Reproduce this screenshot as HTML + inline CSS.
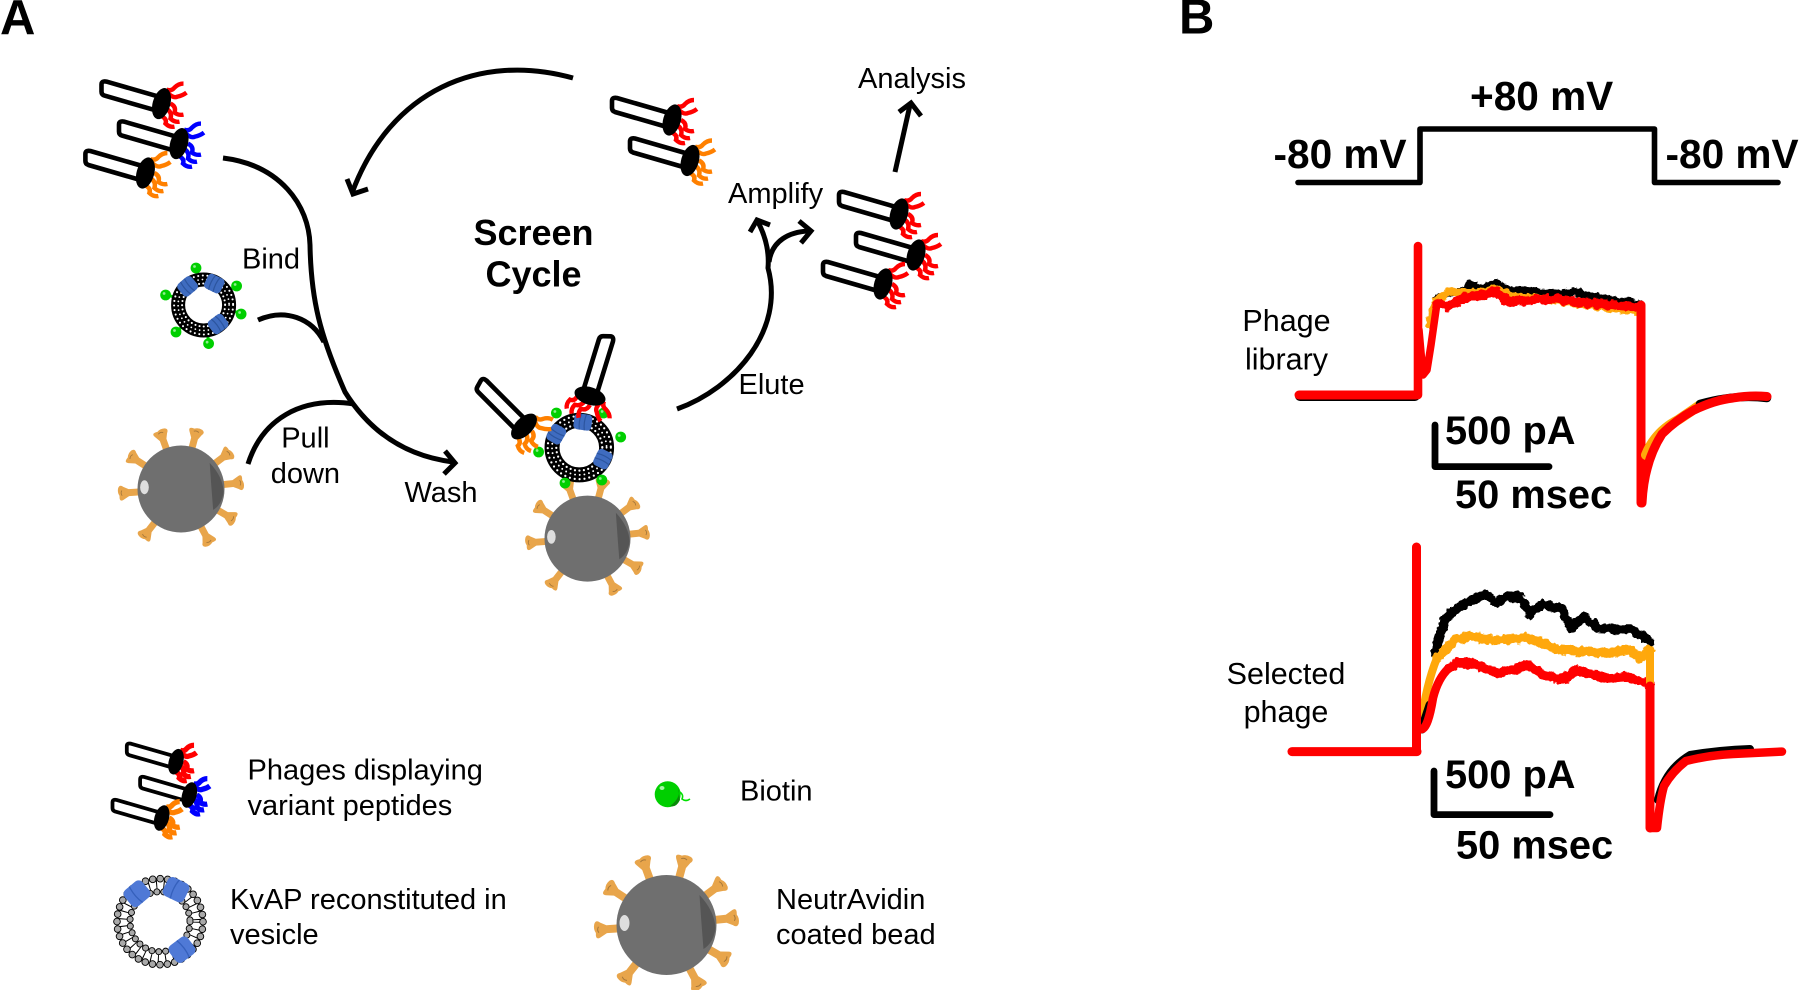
<!DOCTYPE html>
<html lang="en">
<head>
<meta charset="utf-8">
<title>Phage screen cycle and electrophysiology traces</title>
<style>
html,body{margin:0;padding:0;background:#fff;width:1800px;height:990px;overflow:hidden}
svg{display:block}
text{font-family:"Liberation Sans",sans-serif;fill:#000}
.l{font-size:29px}
.s{font-size:30.5px}
.b{font-size:39.8px;font-weight:bold}
.v{font-size:40.6px;font-weight:bold}
.h{font-size:49px;font-weight:bold}
.a{fill:none;stroke:#000;stroke-width:5}
</style>
</head>
<body>
<svg width="1800" height="990" viewBox="0 0 1800 990" xmlns="http://www.w3.org/2000/svg">
<defs>
<filter id="n" filterUnits="userSpaceOnUse" x="1200" y="200" width="600" height="700">
<feTurbulence type="fractalNoise" baseFrequency="0.18" numOctaves="2" seed="4"/>
<feDisplacementMap in="SourceGraphic" scale="6" xChannelSelector="R" yChannelSelector="G"/>
</filter>
<g id="phage">
<path d="M-3,-7 L-55,-22 Q-60,-23 -60,-19 L-60,-12 Q-60,-9 -57,-8 L-5,7" fill="#fff" stroke="#000" stroke-width="4.6"/>
<g fill="none">
<path d="M5,-14 Q10,-12 13,-16 Q17,-20 22,-20"/>
<path d="M7,-10 Q12,-5 16,-7 Q21,-8 25,-11"/>
<path d="M9,0 Q15,3 13,9 Q17,12 22,11"/>
<path d="M5,5 Q11,9 9,15 Q13,19 18,18"/>
<path d="M-1,12 Q6,15 4,20 Q8,24 13,23"/>
</g>
<ellipse cx="0" cy="0" rx="8.8" ry="16" transform="rotate(16)" fill="#000" stroke="none"/>
</g>
<g id="prot">
<rect x="-9" y="-8" width="18" height="16" rx="4" fill="#3f6cc0"/>
<path d="M-2.5,-8 Q-4.5,0 -2.5,8 M2.5,-8 Q0.5,0 2.5,8" fill="none" stroke="#2c559f" stroke-width="1.2"/>
</g>
<g id="ves">
<circle r="25.5" fill="none" stroke="#000" stroke-width="14"/>
<circle r="29.5" fill="none" stroke="#fff" stroke-width="2.1" stroke-linecap="round" stroke-dasharray="0 4.6"/>
<circle r="25.5" fill="none" stroke="#fff" stroke-width="1.8" stroke-linecap="round" stroke-dasharray="0 4.4"/>
<circle r="21.5" fill="none" stroke="#fff" stroke-width="2.1" stroke-linecap="round" stroke-dasharray="0 4.2"/>
<circle r="18" fill="#fff"/>
</g>
<g id="bio">
<circle r="5.4" fill="#00cf00"/>
<circle cx="-1.5" cy="-1.5" r="1.4" fill="#8fef8f"/>
</g>
<g id="sp">
<path d="M-4,-46 L-4,-60 L-8,-67 Q-10.5,-72 -3,-71 Q1,-73.5 6,-72 Q10.5,-70 7,-66 L4,-60 L4,-46 Z" fill="#e8a54b"/>
<path d="M-3,-68 Q0,-70 3,-68" fill="none" stroke="#a5773a" stroke-width="1"/>
</g>
<g id="bead">
<use href="#sp" transform="rotate(-20)"/>
<use href="#sp" transform="rotate(15)"/>
<use href="#sp" transform="rotate(53)"/>
<use href="#sp" transform="rotate(84)"/>
<use href="#sp" transform="rotate(120)"/>
<use href="#sp" transform="rotate(152)"/>
<use href="#sp" transform="rotate(218)"/>
<use href="#sp" transform="rotate(266)"/>
<use href="#sp" transform="rotate(303)"/>
<circle r="50" fill="#6f6f6f"/>
<path d="M33,-30 Q48,-14 49,3 Q47,18 37,24 Q35,0 33,-30Z" fill="#555"/>
<ellipse cx="-42" cy="-2" rx="5" ry="8" fill="#dedede"/>
</g>
</defs>

<rect width="1800" height="990" fill="#fff"/>

<text class="h" x="0" y="34">A</text>
<text class="h" x="1179" y="33.5">B</text>

<!-- Cycle arrows -->
<path class="a" d="M573,78 C480,52 390,90 352,193"/>
<polyline class="a" points="347,179 353,194 368,189"/>
<path class="a" d="M223,158 C280,165 309,205 310,245 C311,300 320,335 345,392 C370,432 405,456 453,462"/>
<polyline class="a" points="445,451 455,463 444,474"/>
<path class="a" d="M258,320 C285,308 312,318 324,342"/>
<path class="a" d="M248,464 C262,420 300,396 354,404"/>
<path class="a" d="M677,409 C735,388 785,330 768,268 Q770,245 758,222"/>
<polyline class="a" points="750,232 757,220 770,225"/>
<path class="a" d="M769,262 C772,240 790,232 808,231"/>
<polyline class="a" points="799,221 811,231 801,243"/>
<line class="a" x1="895" y1="172" x2="910" y2="105"/>
<polyline class="a" points="899,112 911,103 921,116"/>

<!-- Phage input -->
<use href="#phage" transform="translate(161.5,103.6)" stroke="#f00" stroke-width="4.4"/>
<use href="#phage" transform="translate(179,143.6)" stroke="#00f" stroke-width="4.4"/>
<use href="#phage" transform="translate(145.4,173)" stroke="#ff8000" stroke-width="4.4"/>

<!-- Vesicle with biotin -->
<g transform="translate(203.6,305)">
<g stroke="#00cf00" stroke-width="3"><line x1="-7" y1="-35" x2="-4.5" y2="-29"/><line x1="31" y1="-18" x2="26" y2="-15"/><line x1="35" y1="8" x2="30" y2="6"/><line x1="5" y1="36" x2="4" y2="30"/><line x1="-25" y1="25" x2="-21" y2="21"/><line x1="-36" y1="-10" x2="-30" y2="-8"/></g>
<use href="#ves"/>
<use href="#prot" transform="translate(-16,-18.6) rotate(-40)"/>
<use href="#prot" transform="translate(10.7,-21.4) rotate(26)"/>
<use href="#prot" transform="translate(14.5,19) rotate(143)"/>
<use href="#bio" x="-7.6" y="-37"/><use href="#bio" x="33" y="-19"/><use href="#bio" x="37.5" y="9"/><use href="#bio" x="5" y="38.6"/><use href="#bio" x="-27.6" y="27"/><use href="#bio" x="-38" y="-10"/>
</g>

<!-- Bead -->
<use href="#bead" transform="translate(181,489) scale(.87)"/>

<!-- Phage pair -->
<use href="#phage" transform="translate(672,120)" stroke="#f00" stroke-width="4.4"/>
<use href="#phage" transform="translate(690,160.5)" stroke="#ff8000" stroke-width="4.4"/>

<!-- Amplified phage -->
<use href="#phage" transform="translate(899,214)" stroke="#f00" stroke-width="4.4"/>
<use href="#phage" transform="translate(916,255)" stroke="#f00" stroke-width="4.4"/>
<use href="#phage" transform="translate(883,284)" stroke="#f00" stroke-width="4.4"/>

<!-- Complex -->
<use href="#bead" transform="translate(587.5,538.6) scale(.86)"/>
<g transform="translate(579.3,447.6) scale(1.07)"><use href="#ves"/></g>
<use href="#prot" transform="translate(582.9,422) rotate(8)"/>
<use href="#prot" transform="translate(556.3,434.2) rotate(-60)"/>
<use href="#prot" transform="translate(602.9,459.1) rotate(116)"/>
<use href="#bio" x="556.4" y="413"/><use href="#bio" x="620.7" y="437"/><use href="#bio" x="538.6" y="452"/><use href="#bio" x="565" y="483"/><use href="#bio" x="601.8" y="480"/><use href="#bio" x="603.6" y="413"/>
<use href="#phage" transform="translate(524,426.5) rotate(29)" stroke="#ff8000" stroke-width="4.4"/>
<use href="#phage" transform="translate(590,396) rotate(91)" stroke="#f00" stroke-width="4.4"/>

<!-- Labels A -->
<text class="l" x="242" y="268.6">Bind</text>
<text class="l" x="305.4" y="447.5" text-anchor="middle">Pull</text>
<text class="l" x="305.4" y="483" text-anchor="middle">down</text>
<text class="l" x="404.5" y="502">Wash</text>
<text x="533.5" y="245" text-anchor="middle" style="font-size:36px;font-weight:bold">Screen</text>
<text x="533.5" y="286.5" text-anchor="middle" style="font-size:36px;font-weight:bold">Cycle</text>
<text class="l" x="728" y="203">Amplify</text>
<text class="l" x="858" y="88">Analysis</text>
<text class="l" x="738.5" y="394">Elute</text>

<!-- Legend -->
<use href="#phage" transform="translate(176,761.7) scale(.82)" stroke="#f00" stroke-width="6.4"/>
<use href="#phage" transform="translate(189.3,795) scale(.82)" stroke="#00f" stroke-width="6.4"/>
<use href="#phage" transform="translate(161.7,818) scale(.82)" stroke="#ff8000" stroke-width="6.4"/>
<text class="l" x="247.5" y="779.3">Phages displaying</text>
<text class="l" x="247.5" y="815">variant peptides</text>

<g transform="translate(160,921.7)">
<circle r="36.5" fill="none" stroke="#000" stroke-width="11" stroke-dasharray="1 6.3"/>
<circle r="43" fill="none" stroke="#000" stroke-width="7.6" stroke-linecap="round" stroke-dasharray="0 7.5"/>
<circle r="43" fill="none" stroke="#a9a9a9" stroke-width="5.8" stroke-linecap="round" stroke-dasharray="0 7.5"/>
<circle r="30" fill="none" stroke="#000" stroke-width="7" stroke-linecap="round" stroke-dasharray="0 6.9"/>
<circle r="30" fill="none" stroke="#a9a9a9" stroke-width="5.2" stroke-linecap="round" stroke-dasharray="0 6.9"/>
<g fill="#4f79d6">
<g transform="translate(-23,-28) rotate(-40) scale(1.3)"><rect x="-9" y="-8" width="18" height="16" rx="4"/><path d="M-1,-8 Q-3,0 -1,8" fill="none" stroke="#3560bc" stroke-width="1"/></g>
<g transform="translate(16,-32) rotate(26) scale(1.3)"><rect x="-9" y="-8" width="18" height="16" rx="4"/><path d="M-1,-8 Q-3,0 -1,8" fill="none" stroke="#3560bc" stroke-width="1"/></g>
<g transform="translate(22,28) rotate(143) scale(1.3)"><rect x="-9" y="-8" width="18" height="16" rx="4"/><path d="M-1,-8 Q-3,0 -1,8" fill="none" stroke="#3560bc" stroke-width="1"/></g>
</g>
</g>
<text class="l" x="230" y="909">KvAP reconstituted in</text>
<text class="l" x="230" y="944">vesicle</text>

<circle cx="667.7" cy="794.3" r="13" fill="#00cf00"/>
<path d="M678,788 Q682,797 670,806 Q676,808 680,800Z" fill="#0a8a0a"/>
<ellipse cx="662" cy="788" rx="2.5" ry="2" fill="#a6f3a6"/>
<path d="M680,792 Q684,795 682,799 Q686,802 690,799" fill="none" stroke="#00e000" stroke-width="1.6"/>
<text class="l" x="740" y="800.7">Biotin</text>

<use href="#bead" transform="translate(666.5,925)"/>
<text class="l" x="776" y="909">NeutrAvidin</text>
<text class="l" x="776" y="944">coated bead</text>

<!-- Panel B voltage -->
<polyline points="1298,182.5 1420,182.5 1420,129 1654.5,129 1654.5,182.5 1778,182.5" fill="none" stroke="#000" stroke-width="5.6" stroke-linejoin="round" stroke-linecap="round"/>
<text class="v" x="1470" y="110">+80 mV</text>
<text class="v" x="1273.5" y="168">-80 mV</text>
<text class="v" x="1665.5" y="168">-80 mV</text>

<!-- Trace 1 -->
<g style="fill:none;stroke-linejoin:round;stroke-linecap:round">
<g filter="url(#n)">
<polyline stroke="#000" stroke-width="8" fill="none" points="1437,298 1449,294 1464,290 1470,283 1480,289 1496,284 1510,290 1528,291 1555,294 1575,292 1600,298 1625,302 1640,304"/>
<polyline stroke="#ffa80a" stroke-width="9" fill="none" points="1430,325 1437,300 1449,292 1464,293 1480,293 1496,289 1510,296 1528,298 1555,300 1587,304 1615,309 1640,310"/>
<polyline stroke="#f00" stroke-width="9.5" fill="none" points="1437,304 1449,306 1464.6,298 1480,296 1496,291 1504,298 1508,302 1528,300 1555.5,299 1587,303 1615,305 1640,307"/>
</g>
<polyline stroke="#000" stroke-width="10" fill="none" points="1300,396 1415,396"/>
<polyline stroke="#f00" stroke-width="9" fill="none" points="1299,395 1416,395"/>
<line x1="1418" y1="395" x2="1418" y2="246" stroke="#f00" stroke-width="8.6"/>
<polyline stroke="#f00" stroke-width="7.5" fill="none" points="1419,330 1423,375 1427,370 1431,345 1437,303"/>
<line x1="1641" y1="305" x2="1641" y2="503" stroke="#f00" stroke-width="9"/>
<path d="M1646,455 Q1655,432 1678,420 Q1690,412 1700,405" stroke="#ffa80a" stroke-width="10" fill="none"/>
<path d="M1700,404 Q1735,394 1767,398" stroke="#000" stroke-width="8.5" fill="none"/>
<path d="M1642,503 Q1644,462 1662,434 Q1676,420 1694,410 Q1715,400 1733,398 Q1750,395 1767,396.5" stroke="#f00" stroke-width="9" fill="none"/>
</g>
<polyline points="1435,425 1435,466.6 1549,466.6" fill="none" stroke="#000" stroke-width="6.8" stroke-linejoin="round" stroke-linecap="round"/>
<text class="b" x="1445" y="444">500 pA</text>
<text class="b" x="1455" y="508">50 msec</text>
<text class="s" x="1286.5" y="331" text-anchor="middle">Phage</text>
<text class="s" x="1286.5" y="369.5" text-anchor="middle">library</text>

<!-- Trace 2 -->
<g style="fill:none;stroke-linejoin:round;stroke-linecap:round">
<g filter="url(#n)">
<polyline stroke="#000" stroke-width="9.5" fill="none" points="1435,653 1445,619 1456.7,609 1470.5,601 1486,594 1496,602.5 1508,596 1520,597 1530,614 1541.7,604 1561.4,609 1571,628 1583,617.6 1599,628 1617,629 1630.6,629 1650,641"/>
<polyline stroke="#ffa80a" stroke-width="9.5" fill="none" points="1437,658 1456.7,639.5 1470.5,636 1490,640 1528,638 1559,649.6 1607,653 1630.6,649.6 1640,658 1650,649.6"/>
<polyline stroke="#f00" stroke-width="9.5" fill="none" points="1449,668 1456.7,663 1472.5,663 1488,670 1500,673 1528,665 1543.6,675 1563.4,680 1575,670 1607,678 1626.6,676.6 1650,685"/>
</g>
<path d="M1421,725 Q1426,685 1437,658" stroke="#ffa80a" stroke-width="8" fill="none"/>
<polyline stroke="#000" stroke-width="9" fill="none" points="1422,729 1430,705"/>
<path d="M1422,729 Q1428,728 1433,698 Q1438,678 1449,668" stroke="#f00" stroke-width="8.5" fill="none"/>
<line x1="1650" y1="650" x2="1650" y2="690" stroke="#ffa80a" stroke-width="8"/>
<polyline stroke="#f00" stroke-width="9" fill="none" points="1292,751.6 1417,751.6"/>
<line x1="1416.5" y1="751" x2="1416.5" y2="547" stroke="#f00" stroke-width="9"/>
<line x1="1650" y1="686" x2="1650" y2="828" stroke="#f00" stroke-width="9"/>
<path d="M1658,800 Q1665,770 1690,755 Q1720,750 1750,749" stroke="#000" stroke-width="8" fill="none"/>
<path d="M1650,828 L1657,828 Q1660,800 1664,786 Q1672,772 1686,761 Q1710,755 1733,754 L1782,751.6" stroke="#f00" stroke-width="8.5" fill="none"/>
</g>
<polyline points="1434,771 1434,814.6 1550,814.6" fill="none" stroke="#000" stroke-width="6.8" stroke-linejoin="round" stroke-linecap="round"/>
<text class="b" x="1445" y="788">500 pA</text>
<text class="b" x="1456" y="858.5">50 msec</text>
<text class="s" x="1286" y="684" text-anchor="middle">Selected</text>
<text class="s" x="1286" y="722" text-anchor="middle">phage</text>
</svg>
</body>
</html>
